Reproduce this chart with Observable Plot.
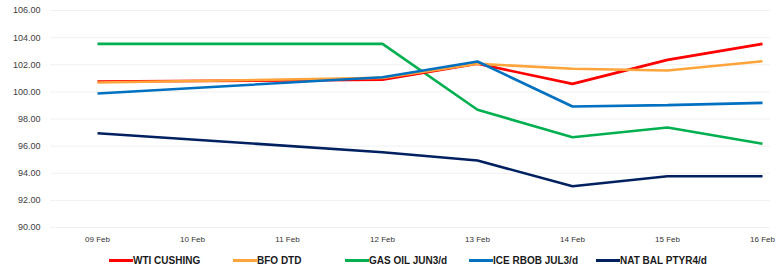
<!DOCTYPE html>
<html>
<head>
<meta charset="utf-8">
<script src="https://cdn.jsdelivr.net/npm/d3@7"></script>
<script src="https://cdn.jsdelivr.net/npm/@observablehq/plot@0.6"></script>
<style>
  html, body { margin: 0; padding: 0; background: #fff; }
  body { width: 776px; height: 274px; overflow: hidden; font-family: "Liberation Sans", Arial, sans-serif; }
  #legend { display: flex; align-items: center; height: 27px; padding-left: 109px; font-weight: bold; font-size: 10px; color: #1a1a1a; }
  .item { display: flex; align-items: center; }
  .sw { width: 24px; height: 3px; margin-right: 0px; }
</style>
</head>
<body>
<div id="chart"></div>
<div id="legend"></div>
<script>
const dates = ["2024-02-09", "2024-02-12", "2024-02-13", "2024-02-14", "2024-02-15", "2024-02-16"];
const tickDates = ["2024-02-09", "2024-02-10", "2024-02-11", "2024-02-12", "2024-02-13", "2024-02-14", "2024-02-15", "2024-02-16"];
const yTicks = [90, 92, 94, 96, 98, 100, 102, 104, 106];

const seriesNames = ["WTI CUSHING", "BFO DTD", "GAS OIL JUN3/d", "ICE RBOB JUL3/d", "NAT BAL PTYR4/d"];
const seriesColors = ["#FF0000", "#FFA43A", "#00B050", "#0070C0", "#002060"];

const wti    = [100.76, 100.89, 102.07, 100.59, 102.36, 103.54];
const bfo    = [100.69, 101.03, 102.07, 101.70, 101.58, 102.26];
const gasoil = [103.54, 103.54, 98.68, 96.66, 97.37, 96.17];
const rbob   = [99.88, 101.08, 102.24, 98.92, 99.02, 99.19];
const natbal = [96.95, 95.55, 94.94, 93.04, 93.78, 93.78];

const allValues = [wti, bfo, gasoil, rbob, natbal];
const drawOrder = [2, 0, 1, 3, 4];

const rows = [];
drawOrder.forEach(si => {
  dates.forEach((d, i) => rows.push({series: seriesNames[si], date: new Date(d), value: allValues[si][i]}));
});

const chart = Plot.plot({
  width: 776,
  height: 247,
  marginTop: 10,
  marginBottom: 20,
  marginLeft: 50,
  marginRight: 6,
  insetLeft: 47,
  insetRight: 8,
  style: { fontFamily: "Liberation Sans, Arial, sans-serif", color: "#404040", background: "#fff" },
  x: { type: "utc", domain: [new Date(tickDates[0]), new Date(tickDates[tickDates.length - 1])] },
  y: { domain: [90, 106] },
  color: { domain: seriesNames, range: seriesColors },
  marks: [
    Plot.ruleY(yTicks, { stroke: "#f0f0f0", strokeWidth: 1 }),
    Plot.axisY(yTicks, { tickSize: 0, tickPadding: 10, tickFormat: d => d.toFixed(2), fontSize: 9, fill: "#404040" , label: null}),
    Plot.axisX(tickDates.map(d => new Date(d)), { tickSize: 0, tickPadding: 9, tickFormat: d3.utcFormat("%d %b"), fontSize: 8, fill: "#333", label: null }),
    Plot.line(rows, { x: "date", y: "value", z: "series", stroke: "series", strokeWidth: 2.6, strokeLinejoin: "miter", strokeLinecap: "butt" })
  ]
});
document.getElementById("chart").appendChild(chart);

const widths = [124, 112, 124, 127, null];
const legend = document.getElementById("legend");
seriesNames.forEach((name, i) => {
  const item = document.createElement("div");
  item.className = "item";
  if (widths[i]) item.style.width = widths[i] + "px";
  const sw = document.createElement("span");
  sw.className = "sw";
  sw.style.background = seriesColors[i];
  const t = document.createElement("span");
  t.textContent = name;
  item.appendChild(sw);
  item.appendChild(t);
  legend.appendChild(item);
});
</script>
</body>
</html>
